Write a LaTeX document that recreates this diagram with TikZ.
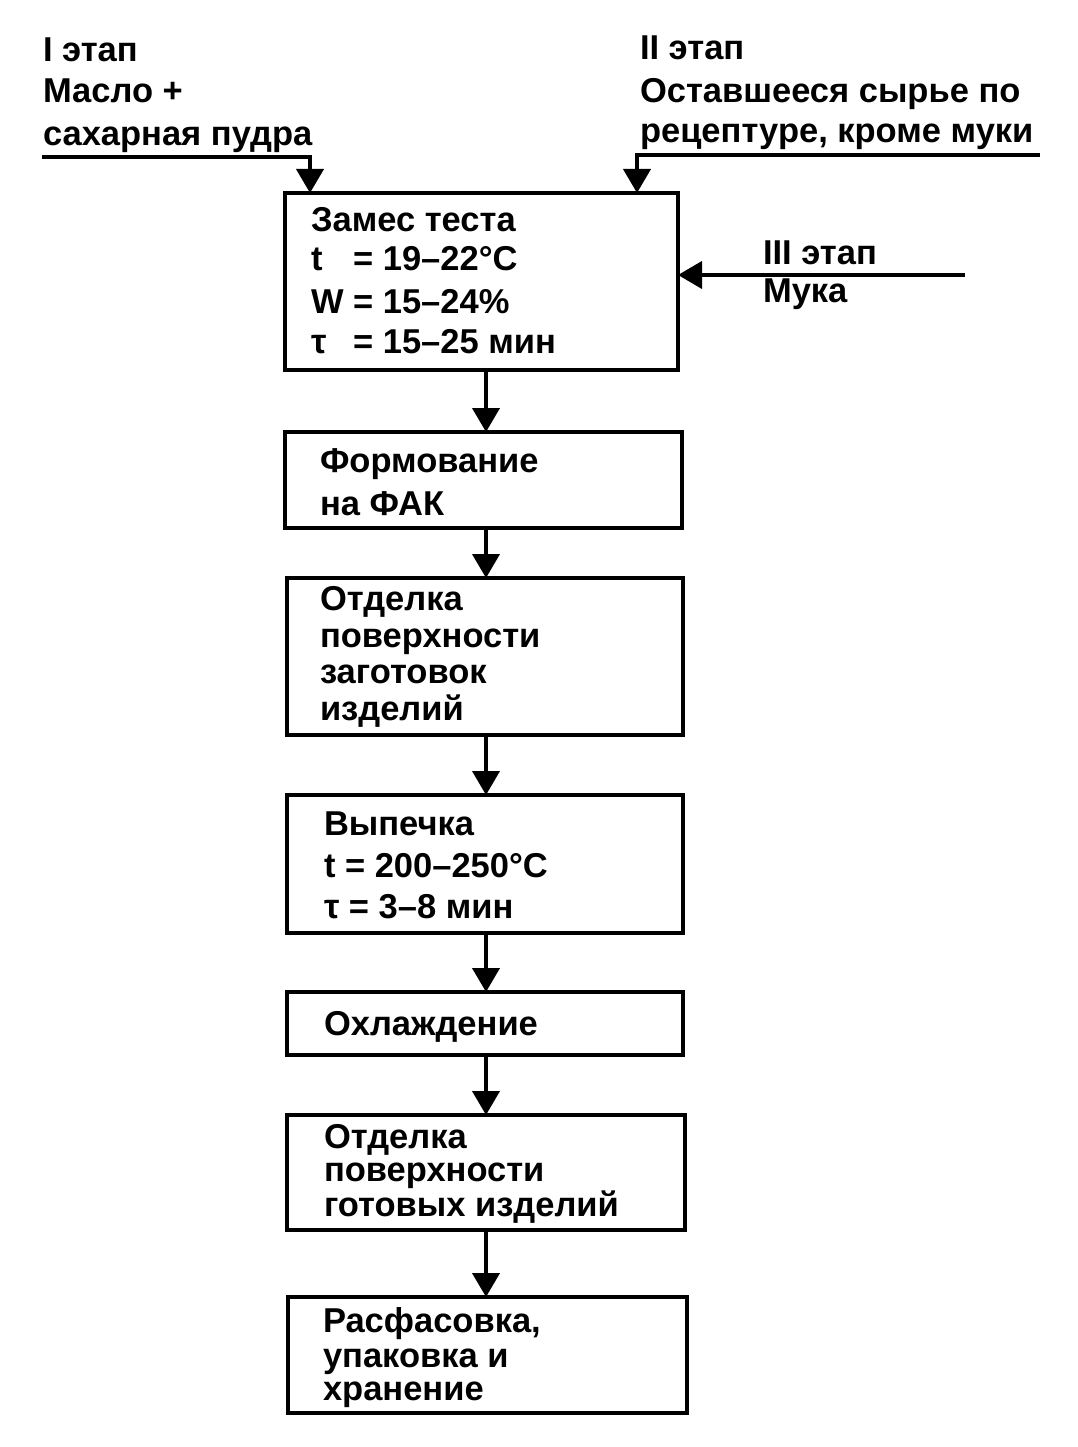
\documentclass[tikz,border=0pt]{standalone}
\usepackage{fontspec}
\setmainfont{Liberation Sans}
\usetikzlibrary{arrows.meta}
\begin{document}
\begin{tikzpicture}[x=1pt,y=-1pt,
  box/.style={draw,line width=4pt,rectangle,inner sep=0pt,outer sep=0pt,anchor=north west},
  txt/.style={anchor=base west,inner sep=0pt,outer sep=0pt,font=\fontsize{34.5}{40}\selectfont\bfseries},
  arr/.style={line width=4pt,-{Triangle[width=27pt,length=24pt]}},
  ln/.style={line width=4pt}]
\useasboundingbox (0,0) rectangle (1077,1447);
% boxes
\node[box,minimum width=393pt,minimum height=177pt] (b1) at (285,193) {};
\node[box,minimum width=397pt,minimum height=96pt] (b2) at (285,432) {};
\node[box,minimum width=396pt,minimum height=157pt] (b3) at (287,578) {};
\node[box,minimum width=396pt,minimum height=138pt] (b4) at (287,795) {};
\node[box,minimum width=396pt,minimum height=63pt] (b5) at (287,992) {};
\node[box,minimum width=398pt,minimum height=115pt] (b6) at (287,1115) {};
\node[box,minimum width=399pt,minimum height=116pt] (b7) at (288,1297) {};
% box texts
\node[txt] (t11) at (311,232) {Замес теста};
\node[txt] (t12) at (311,270) {\rlap{t}\phantom{W} = 19–22°C};
\node[txt] (t13) at (311,313) {W = 15–24\%};
\node[txt] (t14) at (311,353) {\rlap{τ}\phantom{W} = 15–25 мин};
\node[txt] (t21) at (320,472) {Формование};
\node[txt] (t22) at (320,515) {на ФАК};
\node[txt] (t31) at (320,610) {Отделка};
\node[txt] (t32) at (320,647) {поверхности};
\node[txt] (t33) at (320,683) {заготовок};
\node[txt] (t34) at (320,720) {изделий};
\node[txt] (t41) at (324,835) {Выпечка};
\node[txt] (t42) at (324,877) {t = 200–250°C};
\node[txt] (t43) at (324,918) {τ = 3–8 мин};
\node[txt] (t51) at (324,1035) {Охлаждение};
\node[txt] (t61) at (324,1148) {Отделка};
\node[txt] (t62) at (324,1181) {поверхности};
\node[txt] (t63) at (324,1216) {готовых изделий};
\node[txt] (t71) at (323,1332) {Расфасовка,};
\node[txt] (t72) at (323,1367) {упаковка и};
\node[txt] (t73) at (323,1400) {хранение};
% inputs
\node[txt] (s11) at (43,62) {I этап};
\node[txt] (s12) at (43,103) {Масло +};
\node[txt] (s13) at (43,146) {сахарная пудра};
\node[txt] (s21) at (640,60) {II этап};
\node[txt] (s22) at (640,103) {Оставшееся сырье по};
\node[txt] (s23) at (640,143) {рецептуре, кроме муки};
\node[txt] (s31) at (763,265) {III этап};
\node[txt] (s32) at (763,302) {Мука};
% input connectors
\coordinate (u1s) at (42,157);
\coordinate (u1c) at (310,157);
\coordinate (u2s) at (1040,155);
\coordinate (u2c) at (637,155);
\coordinate (u3s) at (965,275);
\draw[arr] (u1s) -- (u1c) -- (u1c |- b1.north);
\draw[arr] (u2s) -- (u2c) -- (u2c |- b1.north);
\draw[arr] (u3s) -- (u3s -| b1.east);
% flow connectors
\coordinate (cx) at (486,0);
\draw[arr] (cx |- b1.south) -- (cx |- b2.north);
\draw[arr] (cx |- b2.south) -- (cx |- b3.north);
\draw[arr] (cx |- b3.south) -- (cx |- b4.north);
\draw[arr] (cx |- b4.south) -- (cx |- b5.north);
\draw[arr] (cx |- b5.south) -- (cx |- b6.north);
\draw[arr] (cx |- b6.south) -- (cx |- b7.north);
\end{tikzpicture}
\end{document}
